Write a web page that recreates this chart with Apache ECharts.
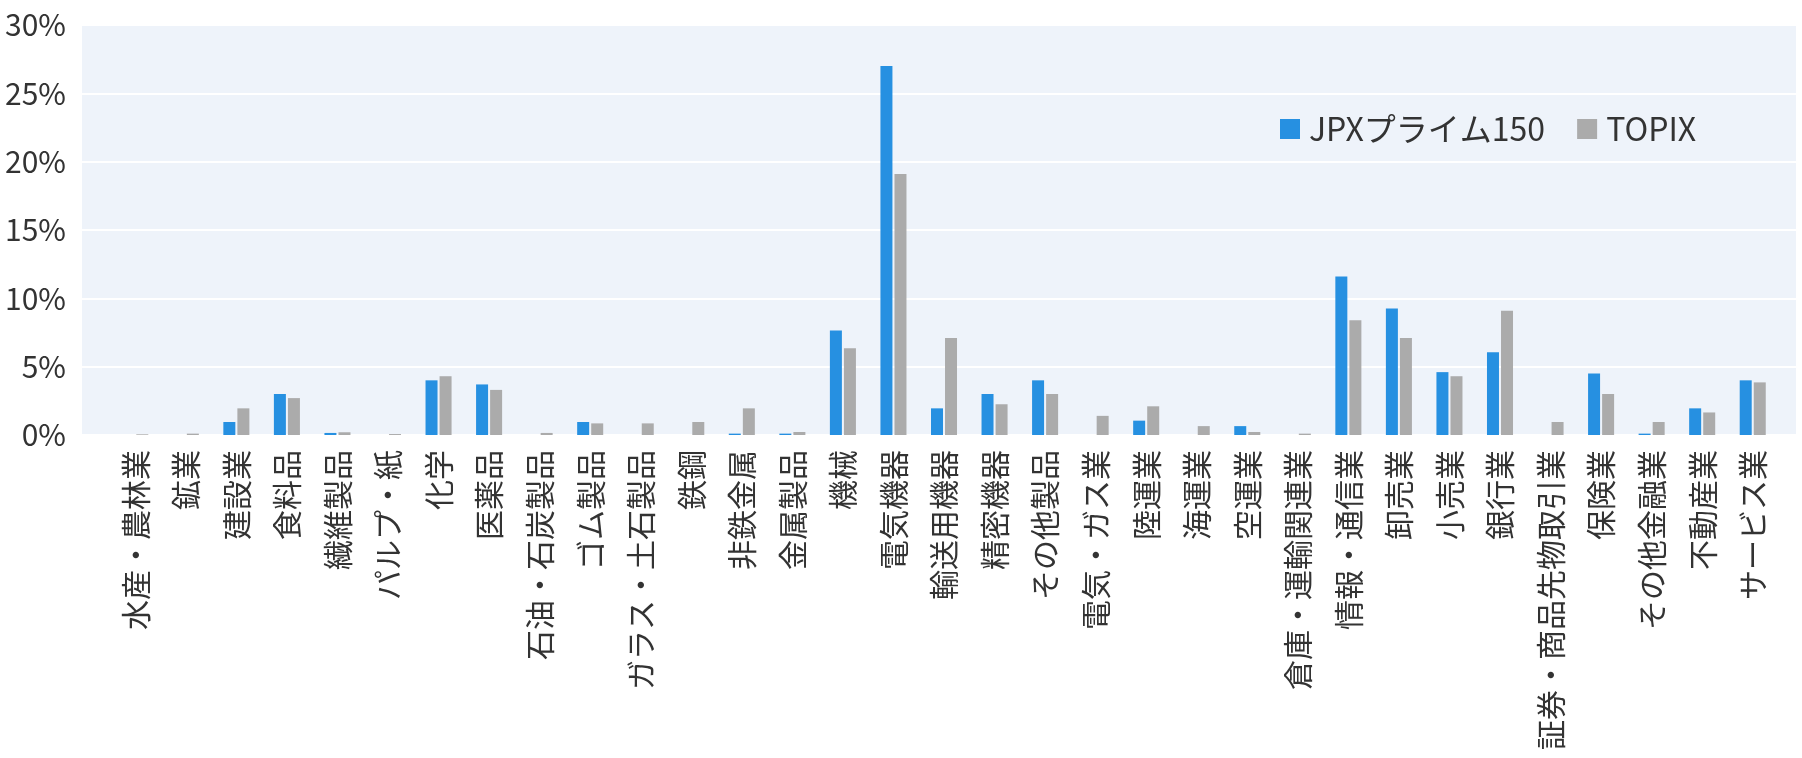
<!DOCTYPE html>
<html>
<head>
<meta charset="utf-8">
<script src="https://cdn.jsdelivr.net/npm/echarts@6/dist/echarts.min.js"></script>
<style>
html,body{margin:0;padding:0;background:#fff;}
#chart{width:1802px;height:758px;}
</style>
</head>
<body>
<div id="chart"></div>
<script>
const categories = [
  '水産・農林業','鉱業','建設業','食料品','繊維製品','パルプ・紙','化学','医薬品',
  '石油・石炭製品','ゴム製品','ガラス・土石製品','鉄鋼','非鉄金属','金属製品','機械','電気機器',
  '輸送用機器','精密機器','その他製品','電気・ガス業','陸運業','海運業','空運業','倉庫・運輸関連業',
  '情報・通信業','卸売業','小売業','銀行業','証券・商品先物取引業','保険業','その他金融業','不動産業','サービス業'
];
const jpxPrime150 = [
  0, 0, 0.95, 3.0, 0.15, 0, 4.0, 3.7,
  0, 0.95, 0, 0, 0.1, 0.1, 7.65, 27.0,
  1.95, 3.0, 4.0, 0, 1.05, 0, 0.65, 0,
  11.6, 9.25, 4.6, 6.05, 0, 4.5, 0.1, 1.95, 4.0
];
const topix = [
  0.05, 0.1, 1.95, 2.7, 0.2, 0.07, 4.3, 3.3,
  0.15, 0.85, 0.85, 0.95, 1.95, 0.22, 6.35, 19.1,
  7.1, 2.25, 3.0, 1.4, 2.1, 0.65, 0.22, 0.1,
  8.4, 7.1, 4.3, 9.1, 0.95, 3.0, 0.95, 1.65, 3.85
];
const seriesNames = ['JPXプライム150', 'TOPIX'];
const yTicks = { min: 0, max: 30, interval: 5 };

const FONT = '"Noto Sans CJK JP", "Noto Sans", sans-serif';
const chart = echarts.init(document.getElementById('chart'), null, { renderer: 'canvas' });
chart.setOption({
  animation: false,
  textStyle: { fontFamily: FONT, color: '#333333' },
  legend: {
    data: seriesNames,
    left: 1275,
    top: 108,
    itemWidth: 20,
    itemHeight: 20,
    itemGap: 32,
    icon: 'rect',
    textStyle: { fontSize: 32, color: '#333333', fontFamily: FONT, padding: [0, 0, 0, 4] }
  },
  grid: [
    { left: 82, right: 6, top: 25, bottom: 323, show: true, backgroundColor: '#EEF3FA', borderWidth: 0, containLabel: false },
    { left: 110, right: 24, top: 25, bottom: 323, containLabel: false }
  ],
  xAxis: [
    { gridIndex: 0, type: 'category', data: categories, show: false },
    {
      gridIndex: 1, type: 'category', data: categories,
      axisLine: { show: false }, axisTick: { show: false },
      axisLabel: { interval: 0, rotate: 90, fontSize: 30, color: '#333333', fontFamily: FONT, margin: 15 }
    }
  ],
  yAxis: [
    {
      gridIndex: 0, type: 'value', min: yTicks.min, max: yTicks.max, interval: yTicks.interval,
      axisLine: { show: false }, axisTick: { show: false },
      axisLabel: { formatter: '{value}%', fontSize: 30, color: '#333333', fontFamily: FONT, margin: 16 },
      splitLine: { show: true, lineStyle: { color: '#FFFFFF', width: 2 } }
    },
    {
      gridIndex: 1, type: 'value', min: yTicks.min, max: yTicks.max, interval: yTicks.interval,
      show: false, splitLine: { show: false }
    }
  ],
  series: [
    {
      name: seriesNames[0], type: 'bar', xAxisIndex: 1, yAxisIndex: 1,
      data: jpxPrime150, barWidth: 12, barGap: '17%',
      itemStyle: { color: '#2690E1' }
    },
    {
      name: seriesNames[1], type: 'bar', xAxisIndex: 1, yAxisIndex: 1,
      data: topix, barWidth: 12, barGap: '17%',
      itemStyle: { color: '#ABABAB' }
    }
  ]
});
</script>
</body>
</html>
